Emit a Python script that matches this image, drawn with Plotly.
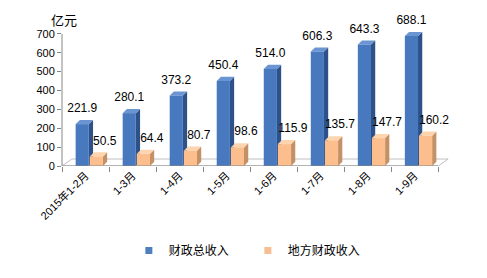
import plotly.graph_objects as go

categories = ["2015年1-2月", "1-3月", "1-4月", "1-5月", "1-6月", "1-7月", "1-8月", "1-9月"]
total_income = [221.9, 280.1, 373.2, 450.4, 514.0, 606.3, 643.3, 688.1]
local_income = [50.5, 64.4, 80.7, 98.6, 115.9, 135.7, 147.7, 160.2]
series_names = ["财政总收入", "地方财政收入"]
y_ticks = [0, 100, 200, 300, 400, 500, 600, 700]

# style / geometry
FONT = "Liberation Sans, Noto Sans CJK SC, sans-serif"
BW = 0.28          # bar front width (category units)
DX = 0.09          # 3D depth in x (category units)
DY = 22            # 3D depth in y (value units)
LABEL_DY = 79      # label offset above bar top (value units)
series_style = [
    dict(off=-0.07, front="#4878BE", side="#2D5189", top="#6A95D2", lab_off=-0.07, legend="#4F7FBE"),
    dict(off=0.23, front="#FBBE8C", side="#C49166", top="#FDD4AE", lab_off=0.41, legend="#F6BE92"),
]

fig = go.Figure()
n = len(categories)

# floor
fdx, fdy = 0.21, 37
fig.add_trace(go.Scatter(
    x=[-0.5, n - 0.5, n - 0.5 + fdx, -0.5 + fdx, -0.5],
    y=[0, 0, fdy, fdy, 0],
    mode="lines", fill="toself", fillcolor="#FFFFFF",
    line=dict(color="#BFBFBF", width=1), hoverinfo="skip", showlegend=False,
))

def poly_trace(xs, ys, color):
    return go.Scatter(x=xs, y=ys, mode="lines", fill="toself", fillcolor=color,
                      line=dict(width=0, color=color), hoverinfo="skip", showlegend=False)

for values, st in zip([total_income, local_income], series_style):
    for i, v in enumerate(values):
        x0 = i + st["off"] - BW / 2
        x1 = i + st["off"] + BW / 2
        fig.add_trace(poly_trace([x1, x1 + DX, x1 + DX, x1, x1],
                                 [0, DY, v + DY, v, 0], st["side"]))
        fig.add_trace(poly_trace([x0, x1, x1 + DX, x0 + DX, x0],
                                 [v, v, v + DY, v + DY, v], st["top"]))
        fig.add_trace(poly_trace([x0, x1, x1, x0, x0],
                                 [0, 0, v, v, 0], st["front"]))

# value labels
for values, st in zip([total_income, local_income], series_style):
    fig.add_trace(go.Scatter(
        x=[i + st["lab_off"] for i in range(n)],
        y=[v + LABEL_DY for v in values],
        text=[f"{v:.1f}" for v in values],
        mode="text", textposition="middle center",
        textfont=dict(family=FONT, size=12, color="#000000"),
        cliponaxis=False, hoverinfo="skip", showlegend=False,
    ))

# legend entries
for name, st in zip(series_names, series_style):
    fig.add_trace(go.Scatter(
        x=[None], y=[None], mode="markers", name=name,
        marker=dict(symbol="square", size=7, color=st["legend"]),
    ))

# second x axis for category labels
fig.add_trace(go.Scatter(x=[0], y=[None], xaxis="x2", mode="markers", showlegend=False, hoverinfo="skip"))

xr = [-0.5, n - 0.5 + 0.25]
Y_TOP = 800
fig.update_layout(
    width=487, height=278,
    margin=dict(l=62, r=487 - 62 - int(round((xr[1] - xr[0]) * 47)), t=15, b=112),
    paper_bgcolor="white", plot_bgcolor="white",
    font=dict(family=FONT, size=11, color="#000000"),
    xaxis=dict(range=xr, showgrid=False, zeroline=False, showline=False,
               tickvals=[k - 0.5 for k in range(n + 1)], ticktext=[""] * (n + 1),
               ticks="outside", ticklen=5, tickcolor="#868686"),
    xaxis2=dict(range=xr, overlaying="x", side="bottom", showgrid=False, zeroline=False,
                showline=False, tickvals=list(range(n)), ticktext=categories,
                tickangle=-45, ticks="", tickfont=dict(family=FONT, size=11, color="#000000")),
    yaxis=dict(range=[0, Y_TOP], showgrid=False, zeroline=False, showline=False,
               tickvals=y_ticks, ticks="outside", ticklen=4, tickcolor="#868686",
               tickfont=dict(family=FONT, size=11, color="#000000")),
    legend=dict(orientation="h", x=0.479, xanchor="center", y=-0.56, yanchor="middle",
                font=dict(family=FONT, size=12, color="#000000"), itemwidth=30,
                entrywidth=74, entrywidthmode="pixels",
                bgcolor="rgba(0,0,0,0)"),
    shapes=[
        dict(type="line", xref="paper", x0=0, x1=0, yref="y", y0=0, y1=700,
             line=dict(color="#868686", width=1)),
        dict(type="line", xref="x", x0=-0.5, x1=n - 0.5, yref="y", y0=0, y1=0,
             line=dict(color="#868686", width=1)),
    ],
    annotations=[dict(text="亿元", xref="paper", yref="y", x=0, y=700, xanchor="center",
                      yanchor="bottom", xshift=2, yshift=4, showarrow=False,
                      font=dict(family=FONT, size=13, color="#000000"))],
    hovermode=False,
)

fig.write_html("out.html")
